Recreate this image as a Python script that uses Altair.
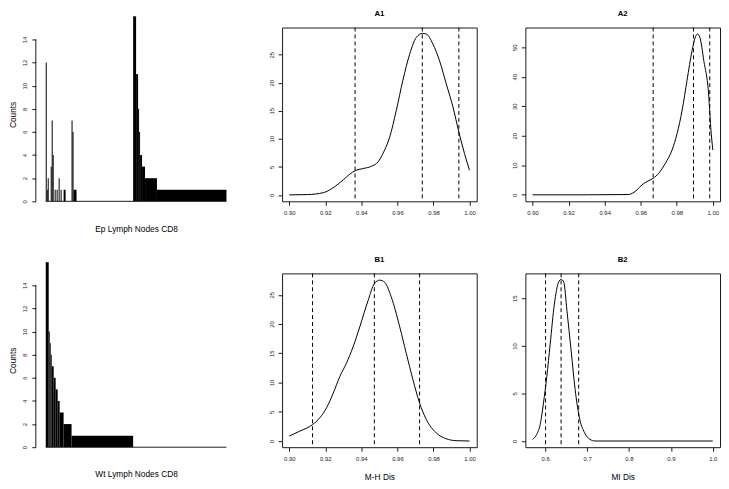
import altair as alt
import pandas as pd

FONT = "Liberation Sans"
INK = "#1a1a1a"

# ---------------- histogram panels (run-length: bar height, number of consecutive bars)
ep_heights = [12, 1, 2, 0, 3, 7, 4, 0, 1, 0, 1, 0, 2, 0, 1, 0, 1, 0, 7, 6, 1, 0, 16, 11, 8, 6, 4, 3, 2, 1]
ep_runs = [1, 1, 1, 2, 1, 1, 1, 1, 1, 1, 1, 1, 1, 1, 1, 2, 2, 6, 1, 1, 3, 57, 3, 2, 1, 1, 2, 3, 12, 70]
wt_heights = [16, 10, 9, 8, 7, 6, 5, 4, 3, 2, 1, 0]
wt_runs = [3, 1, 1, 1, 2, 2, 2, 2, 4, 8, 62, 94]
count_ticks = [0, 2, 4, 6, 8, 10, 12, 14]

# ---------------- density panels
a1_x = [0.900, 0.910, 0.919, 0.924, 0.930, 0.9336, 0.9365, 0.941, 0.9456, 0.9493, 0.952, 0.9557,
        0.9594, 0.963, 0.9668, 0.9705, 0.9738, 0.976, 0.9797, 0.9834, 0.9871, 0.9908, 0.9941, 0.9972, 1.000]
a1_y = [0.0, 0.05, 0.4, 1.2, 2.7, 3.7, 4.3, 4.7, 5.1, 5.9, 7.4, 10.3,
        15.1, 20.4, 25.1, 28.1, 28.8, 28.7, 26.9, 23.9, 19.8, 15.7, 11.2, 7.4, 4.4]
a1_lines = [0.9365, 0.9738, 0.9941]

a2_x = [0.900, 0.930, 0.9533, 0.9556, 0.958, 0.9607, 0.9635, 0.9669, 0.970, 0.9737, 0.9774, 0.9802,
        0.983, 0.9857, 0.9885, 0.9904, 0.9915, 0.9928, 0.995, 0.9978, 0.9987, 1.000]
a2_y = [0.0, 0.0, 0.1, 0.6, 1.7, 3.4, 4.5, 5.6, 7.3, 10.7, 15.2, 20.8,
        28.7, 38.8, 48.9, 53.6, 54.5, 53.4, 45.5, 33.1, 24.2, 15.2]
a2_lines = [0.9669, 0.9893, 0.9983]

b1_x = [0.900, 0.9059, 0.9129, 0.917, 0.9207, 0.9244, 0.928, 0.9317, 0.9354, 0.9391, 0.9437, 0.9472,
        0.9502, 0.953, 0.9566, 0.9613, 0.9649, 0.9686, 0.9723, 0.976, 0.9815, 0.987, 0.9926, 1.000]
b1_y = [0.85, 1.7, 2.8, 4.0, 5.7, 8.2, 11.0, 13.3, 16.1, 19.5, 24.0, 26.9,
        27.5, 27.1, 24.6, 19.5, 15.0, 10.5, 6.5, 3.7, 1.4, 0.4, 0.06, 0.0]
b1_lines = [0.9129, 0.9472, 0.9723]

b2_x = [0.570, 0.580, 0.588, 0.596, 0.604, 0.612, 0.622, 0.632, 0.638, 0.6445, 0.652, 0.662,
        0.6716, 0.681, 0.694, 0.707, 0.719, 0.800, 0.900, 1.000]
b2_y = [0.17, 0.7, 1.7, 4.0, 6.8, 10.2, 14.4, 16.7, 17.0, 16.7, 13.7, 9.5,
        5.4, 2.6, 0.87, 0.17, 0.0, 0.0, 0.0, 0.0]
b2_lines = [0.601, 0.638, 0.680]

ticks_a = [0.90, 0.92, 0.94, 0.96, 0.98, 1.00]
ticks_b2 = [0.6, 0.7, 0.8, 0.9, 1.0]

HIST_H = 175


def hist(heights, runs, xtitle):
    rows = []
    i = 0
    for h, r in zip(heights, runs):
        if h > 0:
            rows.append({"x": i, "x2": i + r, "y": h})
        i += r
    n = i
    df = pd.DataFrame(rows)
    X = alt.X("x:Q", scale=alt.Scale(domain=[0, 188.7], nice=False, zero=False),
              axis=alt.Axis(title=xtitle, labels=False, ticks=False, domain=False, grid=False,
                            titlePadding=23, titleX=n / 2))
    Y = alt.Y("y:Q", scale=alt.Scale(domain=[0, 15.03], nice=False),
              axis=alt.Axis(title="Counts", values=count_ticks, offset=10, domain=False, grid=False,
                            labelAngle=270, labelPadding=4, titlePadding=4, labelOverlap=False))
    bars = alt.Chart(df).mark_bar(color="black").encode(x=X, x2="x2:Q", y=Y, y2=alt.datum(0))
    axis_line = alt.Chart(pd.DataFrame({"y": [0], "y2": [14]})).mark_rule(
        color=INK, strokeWidth=1).encode(x=alt.value(-10), y=Y, y2="y2:Q")
    base_line = alt.Chart(pd.DataFrame({"x": [0], "x2": [n]})).mark_rule(
        color=INK, strokeWidth=1).encode(x=X, x2="x2:Q", y=alt.value(HIST_H))
    return alt.layer(bars, axis_line, base_line).properties(
        width=188.7, height=HIST_H, view=alt.ViewBackground(stroke="transparent"))


def dens(xv, yv, lines, xdom, ydom, xticks, yticks, fmt, title, xtitle):
    df = pd.DataFrame({"x": xv, "y": yv})
    X = alt.X("x:Q", scale=alt.Scale(domain=xdom, nice=False, zero=False),
              axis=alt.Axis(values=xticks, format=fmt, title=xtitle, labelPadding=4,
                            titlePadding=12, grid=False, domain=False, labelOverlap=False))
    Y = alt.Y("y:Q", scale=alt.Scale(domain=ydom, nice=False, zero=False),
              axis=alt.Axis(values=yticks, title="", labelAngle=270, labelPadding=4,
                            grid=False, domain=False, labelOverlap=False))
    curve = alt.Chart(df).mark_line(color="black", strokeWidth=1, interpolate="monotone").encode(x=X, y=Y)
    q = alt.Chart(pd.DataFrame({"x": lines})).mark_rule(
        color="black", strokeWidth=1, strokeDash=[4, 3]).encode(x=X)
    ch = alt.layer(curve, q).properties(width=196, height=175)
    if title:
        ch = ch.properties(title=alt.TitleParams(text=title, fontSize=7.8, fontWeight="bold",
                                                  font=FONT, offset=9.2, color="black"))
    return ch


ep = hist(ep_heights, ep_runs, "Ep Lymph Nodes CD8")
wt = hist(wt_heights, wt_runs, "Wt Lymph Nodes CD8")
a1 = dens(a1_x, a1_y, a1_lines, [0.896, 1.004], [-1.15, 29.85], ticks_a, [0, 5, 10, 15, 20, 25], ".2f", "A1", "")
a2 = dens(a2_x, a2_y, a2_lines, [0.896, 1.004], [-2.2, 56.7], ticks_a, [0, 10, 20, 30, 40, 50], ".2f", "A2", "")
b1 = dens(b1_x, b1_y, b1_lines, [0.896, 1.004], [-1.05, 28.65], ticks_a, [0, 5, 10, 15, 20, 25], ".2f", "B1", "M-H Dis")
b2 = dens(b2_x, b2_y, b2_lines, [0.5528, 1.0172], [-0.65, 17.62], ticks_b2, [0, 5, 10, 15], ".1f", "B2", "MI Dis")

chart = alt.ConcatChart(
    concat=[ep, a1, a2, wt, b1, b2],
    columns=3,
    spacing={"row": 72.6, "column": 49},
    bounds="flush",
    align="each",
    padding=0,
).configure_view(stroke=INK, strokeWidth=1).configure_axis(
    labelFont=FONT, titleFont=FONT, labelFontSize=6, titleFontSize=8.4,
    labelColor="#222", titleColor="black", tickColor=INK, tickSize=4,
    titleFontWeight="normal",
).configure_title(font=FONT)

chart.save("out.html", embed_options={"renderer": "svg", "actions": False})
